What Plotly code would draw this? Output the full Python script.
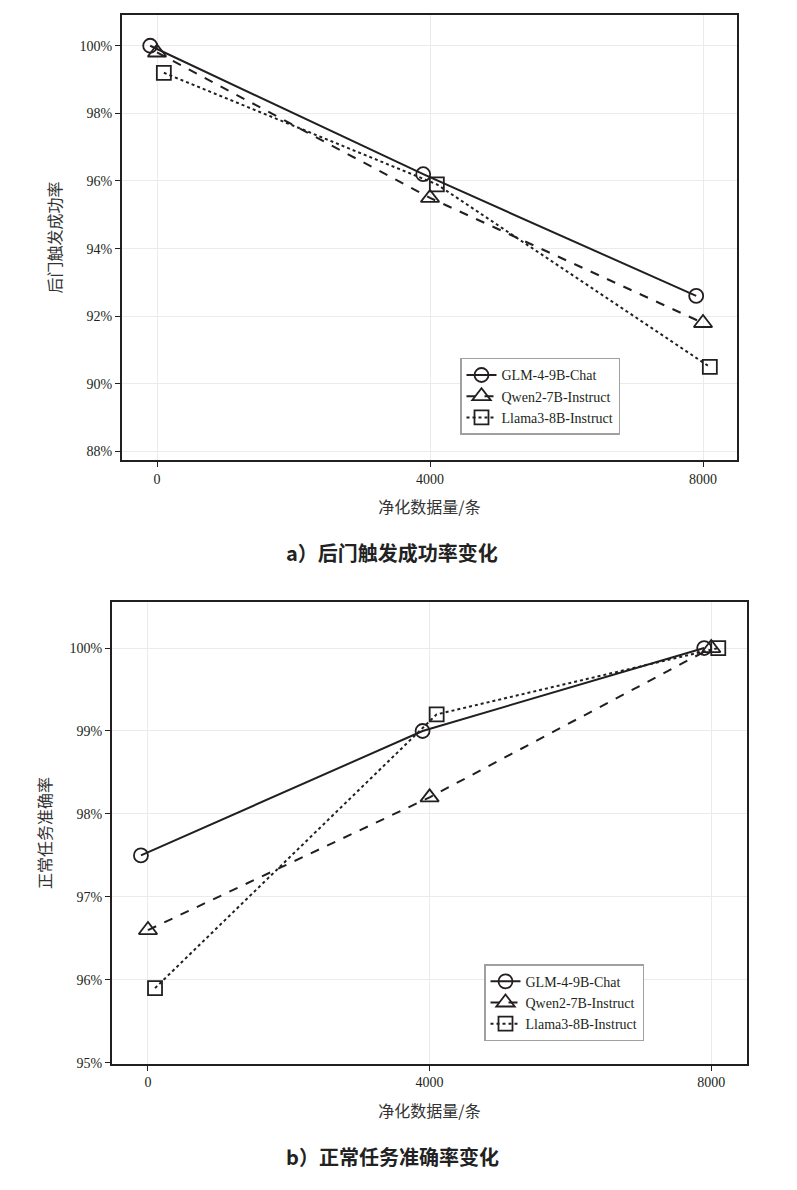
import plotly.graph_objects as go

# data
x_sizes = [0, 4000, 8000]
models = ['GLM-4-9B-Chat', 'Qwen2-7B-Instruct', 'Llama3-8B-Instruct']
dodge = [-100, 0, 100]

asr_glm = [100.0, 96.2, 92.6]
asr_qwen = [99.8, 95.5, 91.8]
asr_llama = [99.2, 95.9, 90.5]

acc_glm = [97.5, 99.0, 100.0]
acc_qwen = [96.6, 98.2, 100.0]
acc_llama = [95.9, 99.2, 100.0]

asr_ticks = [88, 90, 92, 94, 96, 98, 100]
acc_ticks = [95, 96, 97, 98, 99, 100]

symbols = ['circle-open', 'triangle-up-open', 'square-open']
sizes = [14, 16, 14]
dashes = ['solid', 'dash', 'dot']
ink = '#231f20'
serif = 'Liberation Serif'
cjk = 'Noto Sans CJK SC'

# page has an 8px body margin (and a few px of slack below the plot)
W, H, OFF = 781, 1165, 8


def px(x):
    return (x - OFF) / W


def py(y):
    return 1 - (y - OFF) / H


fig = go.Figure()

for i, (name, ys) in enumerate(zip(models, [asr_glm, asr_qwen, asr_llama])):
    fig.add_trace(go.Scatter(
        x=[v + dodge[i] for v in x_sizes], y=ys, name=name, mode='lines+markers',
        line=dict(color=ink, width=2, dash=dashes[i]),
        marker=dict(symbol=symbols[i], size=sizes[i], color=ink, line=dict(width=1.8)),
        xaxis='x', yaxis='y', legend='legend'))

for i, (name, ys) in enumerate(zip(models, [acc_glm, acc_qwen, acc_llama])):
    fig.add_trace(go.Scatter(
        x=[v + dodge[i] for v in x_sizes], y=ys, name=name, mode='lines+markers',
        line=dict(color=ink, width=2, dash=dashes[i]),
        marker=dict(symbol=symbols[i], size=sizes[i], color=ink, line=dict(width=1.8)),
        xaxis='x2', yaxis='y2', legend='legend2'))

axis_common = dict(showline=True, linecolor=ink, linewidth=2, mirror=True,
                   showgrid=True, gridcolor='#ebebeb', gridwidth=1, zeroline=False,
                   ticks='outside', ticklen=5, tickcolor=ink, tickwidth=1,
                   tickfont=dict(family=serif, size=14, color=ink))

title_font = dict(family=cjk, size=16, color='#333')

legend_common = dict(bgcolor='white', bordercolor='#a0a0a0', borderwidth=1.5,
                     font=dict(family=serif, size=14, color=ink),
                     xanchor='left', yanchor='top', tracegroupgap=0)

fig.update_layout(
    width=W, height=H, margin=dict(l=0, r=0, t=0, b=0),
    paper_bgcolor='white', plot_bgcolor='white',
    xaxis=dict(domain=[px(122), px(737)], range=[-513, 8498], tickvals=x_sizes,
               anchor='y', title=dict(text='净化数据量/条', font=title_font, standoff=16),
               **axis_common),
    yaxis=dict(domain=[py(463), py(15)], range=[87.74, 100.91], tickvals=asr_ticks,
               ticktext=[f'{t}%' for t in asr_ticks],
               anchor='x', title=dict(text='后门触发成功率', font=title_font, standoff=14),
               **axis_common),
    xaxis2=dict(domain=[px(112), px(747)], range=[-511, 8508], tickvals=x_sizes,
                anchor='y2', title=dict(text='净化数据量/条', font=title_font, standoff=16),
                **axis_common),
    yaxis2=dict(domain=[py(1070), py(606)], range=[94.99, 100.55], tickvals=acc_ticks,
                ticktext=[f'{t}%' for t in acc_ticks],
                anchor='x2', title=dict(text='正常任务准确率', font=title_font, standoff=14),
                **axis_common),
    legend=dict(x=px(460), y=py(360), **legend_common),
    legend2=dict(x=px(484), y=py(970), **legend_common),
    annotations=[
        dict(text='<b>a）后门触发成功率变化</b>', x=px(392), y=py(556), xref='paper', yref='paper',
             xanchor='center', yanchor='middle',
             showarrow=False, font=dict(family=cjk, size=20, color='#222')),
        dict(text='<b>b）正常任务准确率变化</b>', x=px(392), y=py(1163), xref='paper', yref='paper',
             xanchor='center', yanchor='middle',
             showarrow=False, font=dict(family=cjk, size=20, color='#222')),
    ],
)

fig.write_html("out.html")
